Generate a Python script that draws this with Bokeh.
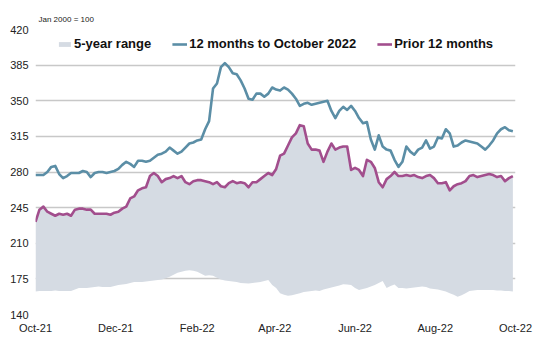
import pandas as pd
from bokeh.plotting import figure
from bokeh.models import Legend, LegendItem, FixedTicker, DatetimeTickFormatter, Range1d
from bokeh.embed import file_html
from bokeh.resources import INLINE

# ---- data ----
start_date = "2021-10-01"
dates = pd.date_range(start_date, periods=122, freq="3D")

current_12m = [
    277, 277, 277, 280, 285, 286, 278, 274, 276, 279, 279, 279, 281, 280, 275, 279,
    280, 280, 279, 280, 281, 283, 287, 290, 288, 285, 291, 291, 290, 291, 294, 297,
    298, 300, 304, 301, 298, 300, 304, 308, 309, 311, 312, 322, 330, 362, 367, 383,
    387, 383, 377, 376, 370, 362, 352, 351, 357, 357, 354, 357, 363, 361,
    360, 363, 361, 357, 352, 345, 347, 348, 346, 347, 348, 349, 350, 340, 333, 340,
    344, 341, 345, 340, 333, 328, 329, 312, 302, 316, 305, 302, 301, 292, 285,
    290, 305, 300, 297, 302, 304, 311, 303, 305, 314, 313, 322, 318, 305, 306, 309,
    311, 310, 309, 308, 305, 302, 306, 311, 318, 322, 324, 321, 320,
]

prior_12m = [
    231, 243, 246, 241, 239, 237, 239, 238, 239, 237, 243, 244, 244, 243, 243, 239,
    239, 239, 239, 238, 240, 241, 244, 246, 254, 256, 262, 264, 265, 276, 279, 276,
    270, 273, 274, 276, 274, 276, 270, 268, 271, 272, 272, 271, 270, 268, 270, 266,
    265, 269, 271, 269, 270, 269, 265, 270, 270, 273, 276, 279, 277, 283,
    296, 298, 306, 314, 318, 326, 325, 308, 302, 302, 301, 290, 300, 308, 302, 304,
    305, 305, 282, 284, 282, 276, 292, 290, 284, 270, 265, 273, 276, 280, 276,
    276, 277, 276, 277, 275, 274, 276, 277, 274, 269, 269, 270, 262, 266, 268, 269,
    271, 276, 277, 275, 276, 277, 278, 277, 275, 276, 271, 274, 276,
]

range_low = [
    162.6, 163, 163, 163, 163, 163.5, 163, 163, 163, 163, 164.5, 166, 166, 166, 166.5, 167,
    167.5, 167, 167, 167, 168, 169, 169.5, 170, 171, 172, 172, 172, 172.5, 173, 173.5, 174,
    174.5, 175.5, 177, 179, 181, 182, 183, 183.5, 183, 182, 180, 178, 178.5, 178, 176, 174.5,
    173.5, 173, 172.5, 172, 171, 170.7, 170.5, 171, 171.5, 172, 173, 174, 169, 166,
    161, 159.5, 158.5, 159, 160, 161, 162, 162.5, 163, 163.5, 163, 164.5, 165.5, 166.5, 167.5, 168.5,
    169.8, 169.5, 169, 166, 164, 165, 166, 167.5, 169, 171, 173, 166, 168, 169.5, 166,
    166, 165.5, 166, 166.5, 167, 167.5, 167, 165.5, 165, 164.5, 163.5, 162.5, 161, 159.5, 157.5, 159,
    161, 163, 163.5, 164, 164, 164, 164, 164, 163.5, 163.5, 163, 163, 162.5,
]
# upper edge of the 5-year range runs along the prior-12-months line
range_high = prior_12m

tick_dates = ["2021-10-01", "2021-12-01", "2022-02-01", "2022-04-01",
              "2022-06-01", "2022-08-01", "2022-10-01"]
y_ticks = [140, 175, 210, 245, 280, 315, 350, 385, 420]

# ---- styles ----
BLUE = "#5b8ea6"
PURPLE = "#a24e8d"
GREY = "#d5dbe3"
FONT = "Liberation Sans"

p = figure(
    width=533, height=337, x_axis_type="datetime",
    output_backend="svg", toolbar_location=None,
    x_range=Range1d(pd.Timestamp("2021-10-01"), pd.Timestamp("2022-10-01")),
    y_range=Range1d(140, 420),
    min_border_left=35, min_border_right=18, min_border_top=29, min_border_bottom=23,
    title="Jan 2000 = 100",
)

area = p.varea(x=dates, y1=range_low, y2=range_high, fill_color=GREY)
l_prior = p.line(dates, prior_12m, line_color=PURPLE, line_width=2.6, line_join="round")
l_cur = p.line(dates, current_12m, line_color=BLUE, line_width=2.6, line_join="round")

p.title.text_font = FONT
p.title.text_font_size = "8px"
p.title.text_font_style = "normal"
p.title.text_color = "#222222"
p.title.offset = 3
p.title.standoff = 12

p.outline_line_color = None
p.xgrid.visible = False
p.ygrid.grid_line_color = "#c8c8c8"
p.ygrid.grid_line_width = 1.5

p.yaxis.ticker = FixedTicker(ticks=y_ticks)
p.xaxis.ticker = FixedTicker(ticks=[pd.Timestamp(d).value // 10**6 for d in tick_dates])
fmt = "%b-%y"
p.xaxis.formatter = DatetimeTickFormatter(
    milliseconds=fmt, seconds=fmt, minsec=fmt, minutes=fmt, hourmin=fmt, hours=fmt,
    days=fmt, months=fmt, years=fmt,
)
for ax in (p.xaxis[0], p.yaxis[0]):
    ax.axis_line_color = None
    ax.major_tick_line_color = None
    ax.minor_tick_line_color = None
    ax.major_tick_out = 0
    ax.major_tick_in = 0
    ax.minor_tick_out = 0
    ax.major_label_text_font = FONT
    ax.major_label_text_font_size = "11px"
    ax.major_label_text_color = "#222222"
p.yaxis.major_label_standoff = 7
p.xaxis.major_label_standoff = 7

legend = Legend(
    items=[
        LegendItem(label="5-year range", renderers=[area]),
        LegendItem(label="12 months to October 2022", renderers=[l_cur]),
        LegendItem(label="Prior 12 months", renderers=[l_prior]),
    ],
    orientation="horizontal", location="top_center",
    spacing=21, glyph_width=15, glyph_height=6, label_height=12, label_standoff=2,
    label_text_font=FONT, label_text_font_size="13px", label_text_font_style="bold",
    label_text_color="#111111",
    background_fill_alpha=0, border_line_color=None, padding=4, margin=7,
)
p.add_layout(legend)

open("out.html", "w").write(file_html(p, INLINE))
